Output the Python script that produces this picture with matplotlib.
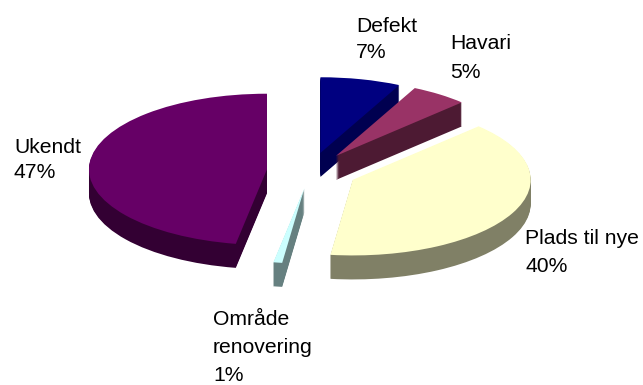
import matplotlib
matplotlib.use('Agg')
import matplotlib.pyplot as plt

#data
names = ['Defekt', 'Havari', 'Plads til nye', 'Område\nrenovering', 'Ukendt']
values = [7.3, 5.2, 39.5, 0.8, 47.2]
top_colors = ['#000080', '#993366', '#FFFFCC', '#CCFFFF', '#660066']
side_colors = ['#000050', '#4D1A33', '#808066', '#668080', '#330033']

#label placement in pixels: left, top of text, line spacing
label_x = [356, 450, 525, 213, 14]
label_y = [17, 34, 229, 310, 138]
label_spacing = [1.45, 1.64, 1.58, 1.61, 1.42]

#geometry of the tilted pie
W, H = 643, 385
flat = 0.425
radius = 178
depth = 24
cx, cy = 310.5, 171
explode = [43.7, 43.7, 47, 40, 43.7]

plt.rcParams['font.family'] = ['Liberation Sans', 'DejaVu Sans']

fig = plt.figure(figsize=(W / 100, H / 100), dpi=100)
ax = fig.add_axes([0, 0, 1, 1])

#y data is stretched by 1/flat, the axis limits squash the circle back to an ellipse
center_y = (H - cy) / flat


def draw_pie(shift, colors):
    ax.pie(values, explode=explode, colors=colors, radius=radius, startangle=90,
           counterclock=False, center=(cx, center_y - shift / flat),
           wedgeprops={'linewidth': 0}, normalize=True)


#side walls first, stacked pies from the bottom up
for d in range(depth, 0, -1):
    draw_pie(d, side_colors)
draw_pie(0, top_colors)

ax.set_aspect('auto')
ax.set_xlim(0, W)
ax.set_ylim(0, H / flat)
ax.axis('off')

#labels
for name, value, x, y, sp in zip(names, values, label_x, label_y, label_spacing):
    ax.text(x, (H - y) / flat, f'{name}\n{round(value)}%', fontsize=15.2, color='black',
            ha='left', va='top', linespacing=sp)

fig.savefig('out.png', dpi=100)
